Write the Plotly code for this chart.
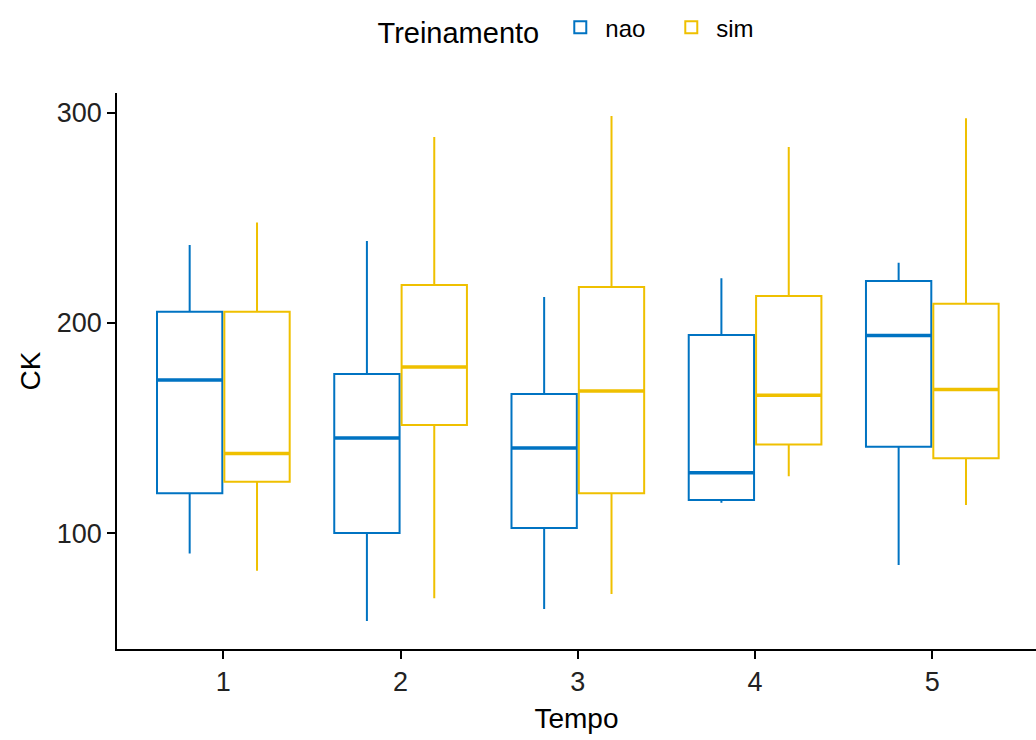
import plotly.graph_objects as go

tempo = [1, 2, 3, 4, 5]
tick_labels = ["1", "2", "3", "4", "5"]

# Treinamento = nao
nao_lower = [90.3, 58.1, 63.8, 114.4, 84.8]
nao_q1 = [118.9, 100.0, 102.4, 115.7, 141.1]
nao_median = [172.9, 145.2, 140.5, 128.7, 194.0]
nao_q3 = [205.4, 175.7, 166.2, 194.3, 220.0]
nao_upper = [237.1, 239.0, 212.4, 221.3, 228.7]

# Treinamento = sim
sim_lower = [82.0, 69.0, 71.0, 127.1, 113.3]
sim_q1 = [124.4, 151.4, 119.0, 142.2, 135.6]
sim_median = [137.9, 179.0, 167.6, 165.6, 168.4]
sim_q3 = [205.4, 218.1, 217.1, 212.9, 209.2]
sim_upper = [247.8, 288.6, 298.6, 283.8, 297.5]

BLUE = "#0073C2"
YELLOW = "#EFC000"

fig = go.Figure()
groups = [
    ("nao", BLUE, nao_lower, nao_q1, nao_median, nao_q3, nao_upper),
    ("sim", YELLOW, sim_lower, sim_q1, sim_median, sim_q3, sim_upper),
]
for name, color, lo, q1, med, q3, up in groups:
    fig.add_trace(go.Box(
        name=name, x=tempo, q1=q1, median=med, q3=q3,
        lowerfence=lo, upperfence=up, offsetgroup=name,
        line=dict(color=color, width=2), fillcolor="rgba(255,255,255,0)",
        whiskerwidth=0, boxpoints=False,
    ))
for name, color, lo, q1, med, q3, up in groups:
    # thicker median line (ggplot fatten = 2)
    fig.add_trace(go.Box(
        name=name, x=tempo, q1=med, median=med, q3=med,
        lowerfence=med, upperfence=med, offsetgroup=name,
        line=dict(color=color, width=3.5), fillcolor="rgba(255,255,255,0)",
        whiskerwidth=0, boxpoints=False, showlegend=False, hoverinfo="skip",
    ))

font_family = "Liberation Sans, Arial, sans-serif"
fig.update_layout(
    width=1036, height=740,
    margin=dict(l=117, r=0, t=93, b=91),
    paper_bgcolor="white", plot_bgcolor="white",
    boxmode="group", boxgap=0.24, boxgroupgap=0.03,
    font=dict(family=font_family, color="black", size=24),
    legend=dict(
        orientation="h", x=0.5, xanchor="center", y=1.115, yanchor="middle",
        title=dict(text="Treinamento ", font=dict(size=29, color="black")),
        font=dict(size=24, color="black"),
        itemwidth=40, entrywidth=56, entrywidthmode="pixels",
    ),
    xaxis=dict(
        range=[0.4, 5.585], tickvals=tempo, ticktext=tick_labels,
        showline=True, linecolor="black", linewidth=1.5,
        ticks="outside", ticklen=8, tickwidth=1.5, tickcolor="black",
        showgrid=False, zeroline=False,
        tickfont=dict(size=27, color="#222"),
        title=dict(text="Tempo", font=dict(size=28, color="black"), standoff=12),
    ),
    yaxis=dict(
        range=[44.8, 309.5], tickvals=[100, 200, 300],
        showline=True, linecolor="black", linewidth=1.5,
        ticks="outside", ticklen=8, tickwidth=1.5, tickcolor="black",
        showgrid=False, zeroline=False,
        tickfont=dict(size=27, color="#222"),
        title=dict(text="CK", font=dict(size=28, color="black"), standoff=8),
    ),
)

fig.write_html("out.html")
